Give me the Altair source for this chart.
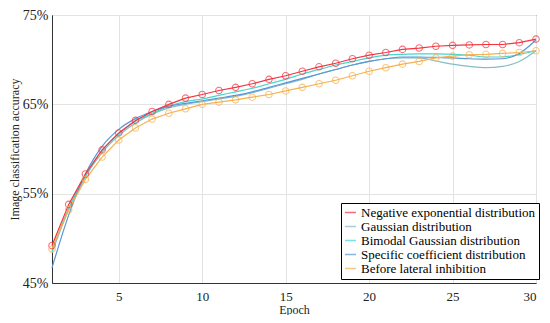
import altair as alt
import pandas as pd

epochs = list(range(1, 31))

neg_exp = [49.2, 53.8, 57.2, 59.9, 61.8, 63.2, 64.2, 65.0, 65.7, 66.1,
           66.55, 66.9, 67.3, 67.8, 68.2, 68.7, 69.2, 69.6, 70.1, 70.5,
           70.8, 71.15, 71.3, 71.5, 71.6, 71.65, 71.7, 71.7, 71.9, 72.3]
gaussian = [48.4, 53.2, 56.9, 59.6, 61.5, 62.9, 63.9, 64.6, 65.0, 65.3,
            65.6, 65.9, 66.3, 66.8, 67.3, 67.8, 68.4, 68.9, 69.4, 69.8,
            70.1, 70.2, 70.2, 69.85, 69.5, 69.25, 69.1, 69.25, 69.8, 71.0]
bimodal = [48.6, 53.4, 57.0, 59.8, 61.7, 63.1, 64.0, 64.8, 65.3, 65.6,
           66.0, 66.4, 66.8, 67.3, 67.8, 68.4, 68.9, 69.4, 69.8, 70.2,
           70.5, 70.6, 70.65, 70.65, 70.6, 70.5, 70.3, 70.3, 70.6, 71.0]
specific = [46.7, 52.6, 57.2, 60.3, 62.2, 63.4, 64.2, 64.8, 65.1, 65.4,
            65.7, 66.0, 66.4, 66.9, 67.4, 67.9, 68.4, 68.9, 69.4, 69.8,
            70.1, 70.3, 70.3, 70.25, 70.2, 70.1, 70.05, 70.1, 70.7, 72.2]
before = [48.8, 53.2, 56.6, 59.1, 61.0, 62.35, 63.35, 64.0, 64.5, 65.0,
          65.25, 65.5, 65.8, 66.1, 66.5, 66.9, 67.3, 67.7, 68.2, 68.7,
          69.1, 69.5, 69.8, 70.2, 70.4, 70.55, 70.6, 70.7, 70.8, 71.0]

names = ["Negative exponential distribution", "Gaussian distribution",
         "Bimodal Gaussian distribution", "Specific coefficient distribution",
         "Before lateral inhibition"]
colors = ["#f5333f", "#86bcc6", "#45d6cc", "#5a96d6", "#f7b04e"]
series = [neg_exp, gaussian, bimodal, specific, before]
marked = ["Negative exponential distribution", "Before lateral inhibition"]
smooth = [n for n in names if n not in marked]

x_ticks = [5, 10, 15, 20, 25, 30]
y_ticks = [45, 55, 65, 75]

rows = []
for n, vals in zip(names, series):
    for e, v in zip(epochs, vals):
        rows.append({"Epoch": e, "Accuracy": v, "Series": n})
df = pd.DataFrame(rows)

FONT = "Liberation Serif"
color_scale = alt.Scale(domain=names, range=colors)

x = alt.X("Epoch:Q", scale=alt.Scale(domain=[1, 30], nice=False),
          axis=alt.Axis(values=x_ticks, title="Epoch", grid=True, ticks=False,
                        labelFont=FONT, titleFont=FONT, labelFontSize=13,
                        titleFontSize=12, labelPadding=7, titlePadding=1))
y = alt.Y("Accuracy:Q", scale=alt.Scale(domain=[45, 75], nice=False),
          axis=alt.Axis(values=y_ticks, title="Image classification accuracy",
                        labelExpr="datum.value + '%'", grid=True, ticks=False,
                        labelFont=FONT, titleFont=FONT, labelFontSize=14,
                        titleFontSize=12, labelPadding=4, titlePadding=1))
color = alt.Color("Series:N", sort=names, scale=color_scale,
                  legend=alt.Legend(title=None, orient="none", legendX=289, legendY=188,
                                    fillColor="white", strokeColor="black",
                                    padding=3, symbolType="stroke",
                                    symbolSize=120, symbolStrokeWidth=1.5,
                                    labelFont=FONT, labelFontSize=13,
                                    labelColor="black", rowPadding=0,
                                    labelOffset=4, labelLimit=400))

base = alt.Chart(df)

lines_smooth = base.transform_filter(
    alt.FieldOneOfPredicate(field="Series", oneOf=smooth)
).mark_line(strokeWidth=1.2, interpolate="monotone").encode(
    x=x, y=y, color=color, order="Epoch:Q")

lines_marked = base.transform_filter(
    alt.FieldOneOfPredicate(field="Series", oneOf=marked)
).mark_line(strokeWidth=1.2).encode(x=x, y=y, color=color, order="Epoch:Q")

points = base.transform_filter(
    alt.FieldOneOfPredicate(field="Series", oneOf=marked)
).mark_point(shape="circle", size=42, filled=False, strokeWidth=1.1).encode(
    x=x, y=y, color=color)

chart = alt.layer(lines_smooth, lines_marked, points).properties(
    width=534, height=307,
    autosize=alt.AutoSizeParams(type="fit", contains="padding"),
    padding={"left": 0, "top": 0, "right": 0, "bottom": 0}
).configure_view(stroke="#333333", strokeWidth=1
).configure_axis(titleFontWeight="normal", labelColor="#222222",
                 titleColor="#222222", domainColor="#333333", gridColor="#e3e3e3")

chart.save("out.html", embed_options={"renderer": "svg", "actions": False})
